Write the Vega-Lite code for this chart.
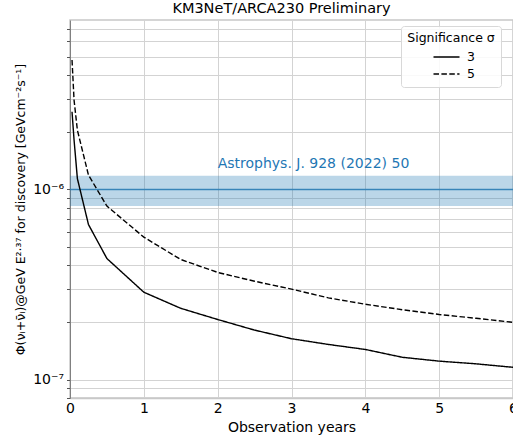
{
  "$schema": "https://vega.github.io/schema/vega-lite/v6.json",
  "width": 443,
  "height": 378,
  "autosize": {"type": "none"},
  "padding": {"left": 70, "top": 20, "right": 0, "bottom": 43},
  "config": {
    "font": "DejaVu Sans",
    "view": {"stroke": "#c8c8c8", "strokeWidth": 1.5},
    "axis": {"labelFont": "DejaVu Sans", "titleFont": "DejaVu Sans", "titleFontWeight": "normal", "labelColor": "black", "titleColor": "black"}
  },
  "title": {"text": "KM3NeT/ARCA230 Preliminary", "fontSize": 14.5, "fontWeight": "normal", "anchor": "middle", "dx": -10, "offset": 4, "color": "black"},
  "datasets": {
    "curves": [
      {"year": 0.0274, "flux": 2.56e-6, "sigma": "3"},
      {"year": 0.055, "flux": 1.82e-6, "sigma": "3"},
      {"year": 0.1, "flux": 1.14e-6, "sigma": "3"},
      {"year": 0.25, "flux": 6.54e-7, "sigma": "3"},
      {"year": 0.5, "flux": 4.33e-7, "sigma": "3"},
      {"year": 1.0, "flux": 2.88e-7, "sigma": "3"},
      {"year": 1.5, "flux": 2.37e-7, "sigma": "3"},
      {"year": 2.0, "flux": 2.07e-7, "sigma": "3"},
      {"year": 2.5, "flux": 1.82e-7, "sigma": "3"},
      {"year": 3.0, "flux": 1.64e-7, "sigma": "3"},
      {"year": 3.5, "flux": 1.53e-7, "sigma": "3"},
      {"year": 4.0, "flux": 1.44e-7, "sigma": "3"},
      {"year": 4.5, "flux": 1.31e-7, "sigma": "3"},
      {"year": 5.0, "flux": 1.25e-7, "sigma": "3"},
      {"year": 5.5, "flux": 1.21e-7, "sigma": "3"},
      {"year": 6.0, "flux": 1.16e-7, "sigma": "3"},
      {"year": 0.0274, "flux": 4.79e-6, "sigma": "5"},
      {"year": 0.055, "flux": 2.95e-6, "sigma": "5"},
      {"year": 0.1, "flux": 2.05e-6, "sigma": "5"},
      {"year": 0.25, "flux": 1.19e-6, "sigma": "5"},
      {"year": 0.5, "flux": 8.17e-7, "sigma": "5"},
      {"year": 1.0, "flux": 5.61e-7, "sigma": "5"},
      {"year": 1.5, "flux": 4.28e-7, "sigma": "5"},
      {"year": 2.0, "flux": 3.66e-7, "sigma": "5"},
      {"year": 2.5, "flux": 3.29e-7, "sigma": "5"},
      {"year": 3.0, "flux": 2.99e-7, "sigma": "5"},
      {"year": 3.5, "flux": 2.69e-7, "sigma": "5"},
      {"year": 4.0, "flux": 2.49e-7, "sigma": "5"},
      {"year": 4.5, "flux": 2.33e-7, "sigma": "5"},
      {"year": 5.0, "flux": 2.20e-7, "sigma": "5"},
      {"year": 5.5, "flux": 2.10e-7, "sigma": "5"},
      {"year": 6.0, "flux": 2.00e-7, "sigma": "5"}
    ],
    "band": [{"lo": 8.17e-7, "hi": 1.18e-6, "mid": 1e-6}],
    "note": [{"year": 2.0, "flux": 1.297e-6, "label": "Astrophys. J. 928 (2022) 50"}]
  },
  "layer": [
    {
      "data": {"name": "band"},
      "mark": {"type": "rect", "color": "#1f77b4", "opacity": 0.3},
      "encoding": {
        "y": {"field": "hi", "type": "quantitative", "scale": {"type": "log", "domain": [8e-8, 7.78e-6], "nice": false}},
        "y2": {"field": "lo"}
      }
    },
    {
      "data": {"name": "band"},
      "mark": {"type": "rule", "color": "#1f77b4", "opacity": 0.8, "strokeWidth": 1.5},
      "encoding": {
        "y": {"field": "mid", "type": "quantitative"}
      }
    },
    {
      "data": {"name": "curves"},
      "mark": {"type": "line", "color": "black", "strokeWidth": 1.4, "clip": true},
      "encoding": {
        "x": {"field": "year", "type": "quantitative", "scale": {"domain": [0, 6], "nice": false},
          "axis": {"values": [0, 1, 2, 3, 4, 5, 6], "format": "d", "title": "Observation years", "titleFontSize": 14, "labelFontSize": 14, "labelPadding": 3, "ticks": false, "grid": true, "gridColor": "#d3d3d3", "gridWidth": 1, "domainColor": "#c8c8c8", "domainWidth": 1.5, "titlePadding": 5, "labelFlush": false}},
        "y": {"field": "flux", "type": "quantitative", "scale": {"type": "log", "domain": [8e-8, 7.78e-6], "nice": false},
          "axis": {"values": [8e-8, 9e-8, 1e-7, 2e-7, 3e-7, 4e-7, 5e-7, 6e-7, 7e-7, 8e-7, 9e-7, 1e-6, 2e-6, 3e-6, 4e-6, 5e-6, 6e-6, 7e-6],
            "labelExpr": "datum.value == 1e-6 ? '10⁻⁶' : (datum.value == 1e-7 ? '10⁻⁷' : '')",
            "title": "Φ(νᵢ+ν̄ᵢ)@GeV E²·³⁷ for discovery [GeVcm⁻²s⁻¹]",
            "titleFontSize": 12.5, "labelFontSize": 14, "tickSize": 3.5, "tickColor": "#555", "domainColor": "#808080",
            "grid": true, "gridColor": "#d3d3d3", "gridWidth": 1, "labelPadding": 3, "titlePadding": 5}},
        "strokeDash": {"field": "sigma", "type": "nominal",
          "scale": {"domain": ["3", "5"], "range": [[1, 0], [5.5, 2.4]]},
          "legend": {"orient": "none", "legendX": 331, "legendY": 6, "title": "Significance σ",
            "titleFontSize": 12.5, "titleFontWeight": "normal", "titleColor": "black", "labelFontSize": 12.5, "labelColor": "black",
            "symbolType": "M-2,0H2", "symbolSize": 169, "symbolStrokeWidth": 1.4, "symbolStrokeColor": "black",
            "symbolOffset": 12, "labelOffset": 13, "fillColor": "rgba(255,255,255,0.85)", "strokeColor": "#d8d8d8",
            "cornerRadius": 3, "padding": 6, "titleAnchor": "middle", "rowPadding": 3}}
      }
    },
    {
      "data": {"name": "note"},
      "mark": {"type": "text", "color": "#1f77b4", "fontSize": 14, "align": "left", "baseline": "alphabetic"},
      "encoding": {
        "x": {"field": "year", "type": "quantitative"},
        "y": {"field": "flux", "type": "quantitative"},
        "text": {"field": "label"}
      }
    }
  ]
}
